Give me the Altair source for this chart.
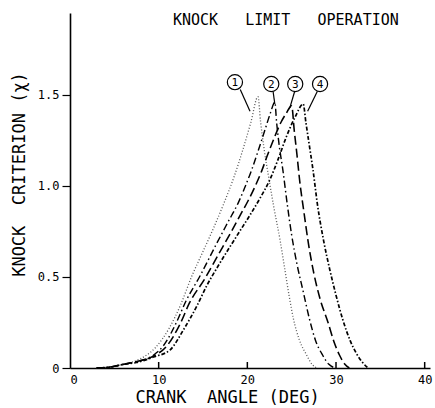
import altair as alt
import pandas as pd

# Crank angle (deg) and knock criterion for the four cases
c1_angle = [3.0, 4.5, 6.0, 7.9, 9.6, 11.2, 12.5, 13.7, 15.0, 16.2, 17.4, 18.5, 19.5, 20.4, 21.2,
            21.5, 21.9, 22.4, 23.0, 23.7, 24.2, 24.7, 25.2, 25.9, 26.7, 27.3, 27.8]
c1_crit = [0.0, 0.005, 0.02, 0.05, 0.11, 0.22, 0.35, 0.50, 0.64, 0.77, 0.91, 1.05, 1.20, 1.35, 1.49,
           1.35, 1.20, 1.05, 0.88, 0.70, 0.55, 0.40, 0.27, 0.15, 0.07, 0.02, 0.0]

c2_angle = [3.0, 4.5, 6.0, 7.5, 9.4, 10.5, 12.0, 13.1, 14.6, 16.5, 17.8, 19.0, 19.7, 20.5, 21.2, 22.0, 22.6, 23.1,
            23.3, 23.6, 24.0, 24.5, 25.0, 25.6, 26.3, 27.0, 27.7, 28.5, 29.2, 29.9]
c2_crit = [0.0, 0.005, 0.02, 0.035, 0.07, 0.12, 0.25, 0.37, 0.50, 0.68, 0.80, 0.91, 0.99, 1.09, 1.19, 1.31, 1.40, 1.46,
           1.35, 1.22, 1.09, 0.90, 0.73, 0.57, 0.42, 0.27, 0.15, 0.07, 0.02, 0.0]

c3_angle = [3.0, 4.5, 6.0, 7.5, 9.4, 10.9, 12.4, 13.5, 15.2, 16.7, 18.2, 19.2, 20.1, 20.8, 21.6, 22.2, 23.0, 23.8, 24.4, 25.0,
            25.3, 25.6, 25.9, 26.4, 26.9, 27.5, 28.2, 29.1, 29.8, 30.4, 31.0, 31.5]
c3_crit = [0.0, 0.005, 0.02, 0.035, 0.065, 0.12, 0.24, 0.36, 0.49, 0.62, 0.75, 0.84, 0.92, 0.99, 1.08, 1.16, 1.26, 1.35, 1.40, 1.44,
           1.30, 1.17, 1.03, 0.85, 0.68, 0.52, 0.38, 0.25, 0.14, 0.07, 0.02, 0.0]

c4_angle = [3.0, 4.5, 6.0, 7.5, 9.4, 11.3, 12.8, 14.3, 15.4, 16.7, 19.0, 20.3, 21.4, 22.5, 23.5, 24.4, 25.4, 26.3,
            26.6, 27.0, 27.4, 27.9, 28.6, 29.3, 30.0, 30.8, 31.6, 32.3, 33.0, 33.6]
c4_crit = [0.0, 0.005, 0.02, 0.03, 0.06, 0.10, 0.21, 0.34, 0.45, 0.56, 0.74, 0.84, 0.93, 1.03, 1.15, 1.27, 1.38, 1.45,
           1.35, 1.22, 1.09, 0.90, 0.70, 0.54, 0.40, 0.26, 0.15, 0.08, 0.03, 0.0]

case_ids = ["1", "2", "3", "4"]

# Circled case labels and their leader lines
label_angle = [18.6, 22.7, 25.4, 28.2]
label_crit = [1.57, 1.56, 1.56, 1.56]
leader_from_angle = [19.2, 22.9, 25.4, 27.9]
leader_from_crit = [1.53, 1.52, 1.53, 1.52]
leader_to_angle = [20.3, 23.1, 24.8, 26.8]
leader_to_crit = [1.41, 1.45, 1.43, 1.41]

x_tick_values = [10, 20, 30, 40]
x_label_values = [0, 10, 20, 30, 40]
y_label_values = [0, 0.5, 1.0, 1.5]

FONT = "DejaVu Sans Mono"
NBSP = "\u00a0"  # keeps the wide word gaps from collapsing in SVG text
W, H = 360, 355

curves = pd.concat([
    pd.DataFrame({"angle": a, "crit": c, "case": k})
    for k, a, c in zip(case_ids,
                       [c1_angle, c2_angle, c3_angle, c4_angle],
                       [c1_crit, c2_crit, c3_crit, c4_crit])
], ignore_index=True)

labels = pd.DataFrame({"angle": label_angle, "crit": label_crit, "case": case_ids})
leaders = pd.DataFrame({
    "angle": leader_from_angle, "crit": leader_from_crit,
    "angle2": leader_to_angle, "crit2": leader_to_crit,
})
ticks = pd.DataFrame({"angle": x_tick_values})

x_scale = alt.Scale(domain=[0, 40.6], nice=False)
y_scale = alt.Scale(domain=[0, 1.95], nice=False)

# Same axis definitions in every layer so they merge into one
x_axis = alt.Axis(
    values=x_label_values, ticks=False, grid=False, labelPadding=6,
    title="CRANK" + NBSP * 2 + "ANGLE (DEG)", titleX=157, titleY=21, titleFontSize=17,
)
y_axis = alt.Axis(
    values=y_label_values, tickSize=8, grid=False, labelPadding=3,
    labelExpr="datum.value == 0 ? '0' : format(datum.value, '.1f')",
    title="KNOCK" + NBSP * 2 + "CRITERION (χ)", titleX=-42, titleY=161, titleFontSize=17,
)

X = alt.X("angle:Q", scale=x_scale, axis=x_axis)
Y = alt.Y("crit:Q", scale=y_scale, axis=y_axis)

lines = alt.Chart(curves).mark_line(interpolate="monotone").encode(
    x=X,
    y=Y,
    detail="case:N",
    strokeDash=alt.StrokeDash("case:N", legend=None, scale=alt.Scale(
        domain=case_ids, range=[[1, 2], [7, 3, 1.5, 3], [9, 4], [4, 2, 1.5, 2]])),
    color=alt.Color("case:N", legend=None, scale=alt.Scale(
        domain=case_ids, range=["#555555", "#000000", "#000000", "#000000"])),
    strokeWidth=alt.StrokeWidth("case:N", legend=None, scale=alt.Scale(
        domain=case_ids, range=[1.3, 1.7, 1.7, 1.6])),
)

leader_lines = alt.Chart(leaders).mark_rule(color="black", strokeWidth=1.2).encode(
    x=X, y=Y, x2="angle2:Q", y2="crit2:Q",
)

circles = alt.Chart(labels).mark_point(
    shape="circle", filled=False, fill="white", fillOpacity=1, opacity=1,
    stroke="black", strokeWidth=1.2, size=230,
).encode(x=X, y=Y)

circle_text = alt.Chart(labels).mark_text(
    font=FONT, fontSize=11, color="black", baseline="middle", align="center", dy=0.5,
).encode(x=X, y=Y, text="case:N")

x_ticks = alt.Chart(ticks).mark_rule(color="black", strokeWidth=1.5).encode(
    x=X,
    y=alt.value(H),
    y2=alt.value(H - 6),
)

chart = alt.layer(lines, leader_lines, circles, circle_text, x_ticks).properties(
    width=W,
    height=H,
    background="white",
    autosize=alt.AutoSizeParams(type="none"),
    padding={"left": 70, "top": 13, "right": 5, "bottom": 40},
    title=alt.TitleParams(
        text="KNOCK" + NBSP * 3 + "LIMIT" + NBSP * 3 + "OPERATION",
        anchor="start", frame="group", dx=103, dy=27, offset=0,
        baseline="alphabetic", font=FONT, fontSize=15, fontWeight="normal", color="black",
    ),
).configure_view(
    stroke=None
).configure_axis(
    domainColor="black", domainWidth=1.6, tickColor="black", tickWidth=1.2,
    labelFont=FONT, labelFontSize=12, labelColor="black",
    titleFont=FONT, titleFontWeight="normal", titleColor="black",
)

chart.save("out.html", embed_options={"renderer": "svg", "actions": False})
